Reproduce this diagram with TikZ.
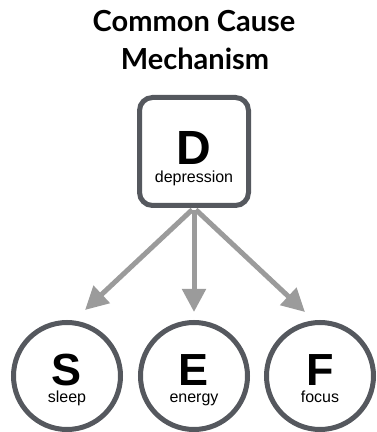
\documentclass[tikz,border=0pt]{standalone}
\usepackage{fontspec}
\setmainfont{Liberation Sans}
\newfontfamily\titlefont{Lato}
\usetikzlibrary{arrows.meta}

\definecolor{rim}{HTML}{55585E}
\definecolor{shaft}{HTML}{9B9B9B}

\begin{document}
\begin{tikzpicture}[x=1pt, y=1pt,
  var/.style={draw=rim, line width=5pt, fill=white, inner sep=0pt},
  cause/.style={var, rounded corners=13pt, minimum width=109pt, minimum height=108pt},
  effect/.style={var, circle, minimum size=107pt},
  letter/.style={anchor=base, inner sep=0pt, font=\bfseries\fontsize{48}{48}\selectfont},
  small letter/.style={letter, font=\bfseries\fontsize{45}{45}\selectfont},
  word/.style={anchor=base, inner sep=0pt, font=\fontsize{16}{16}\selectfont},
  title/.style={anchor=base, inner sep=0pt, font=\titlefont\bfseries\fontsize{29}{29}\selectfont},
  link/.style={draw=shaft, line width=5pt, shorten <=2.5pt, -{Triangle[length=23pt,width=23pt]}}]
\useasboundingbox (0,0) rectangle (376,432);

\node[title] (line1) at (194,400) {Common Cause};
\node[title] (line2) at (195,362) {Mechanism};

\node[cause] (D) at (194,280.5) {};
\node[letter] (Dl) at ([yshift=-13.5pt]D.center) {D};
\node[word] (Dw) at ([yshift=-31.5pt]D.center) {depression};

\node[effect] (S) at (67,56) {};
\node[effect] (E) at (194,56) {};
\node[effect] (F) at (320,56) {};
\node[small letter] (Sl) at ([yshift=-9.5pt]S.center) {S};
\node[word] (Sw) at ([yshift=-27pt]S.center) {sleep};
\node[small letter] (El) at ([yshift=-9.5pt]E.center) {E};
\node[word] (Ew) at ([yshift=-27pt]E.center) {energy};
\node[small letter] (Fl) at ([yshift=-9.5pt]F.center) {F};
\node[word] (Fw) at ([yshift=-27pt]F.center) {focus};

\coordinate (sTip) at (85,122);
\coordinate (eTip) at (194,120);
\coordinate (fTip) at (305,120);
\draw[link] (D.south) -- (sTip);
\draw[link] (D.south) -- (eTip);
\draw[link] (D.south) -- (fTip);
\end{tikzpicture}
\end{document}
